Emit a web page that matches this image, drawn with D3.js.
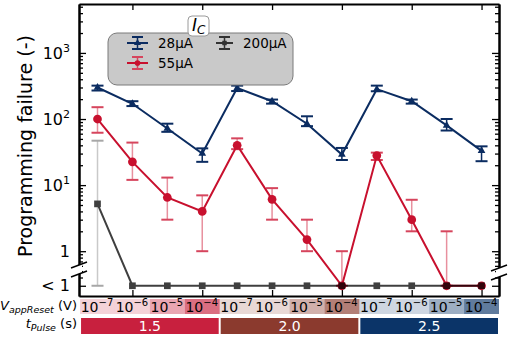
<!DOCTYPE html>
<html>
<head>
<meta charset="utf-8">
<script src="https://cdn.jsdelivr.net/npm/d3@7"></script>
<style>
  body { margin: 0; background: #fff; }
  svg { display: block; font-family: "DejaVu Sans", sans-serif; }
</style>
</head>
<body>
<svg id="chart" width="510" height="337"></svg>
<script>
// "< 1" is drawn at this value on the log axis
const LT = 0.3;

const steps = [1, 2, 3, 4, 5, 6, 7, 8, 9, 10, 11, 12];
const vExp = ["-7", "-6", "-5", "-4", "-7", "-6", "-5", "-4", "-7", "-6", "-5", "-4"];
const pulses = ["1.5", "2.0", "2.5"];

const fail28   = [300, 170, 72, 30, 295, 186, 85, 29, 283, 186, 80, 33];
const fail28Lo = [270, 157, 64, 22.5, 265, 171, 78, 24, 263, 171, 67, 23];
const fail28Hi = [320, 186, 85, 36, 320, 197, 110, 36.5, 320, 197, 100, 38.6];

const fail55   = [100, 22.5, 6.5, 4.0, 40, 6.1, 1.5, LT, 28, 3.0, LT, LT];
const fail55Lo = [62, 12, 3, 1, 35, 3, 1, LT, 24, 2.0, LT, LT];
const fail55Hi = [151, 44, 13, 7, 51, 9, 3, 1, 31, 6, 2, LT];

const fail200   = [5.2, LT, LT, LT, LT, LT, LT, LT, LT, LT, LT, LT];
const fail200Lo = [LT, LT, LT, LT, LT, LT, LT, LT, LT, LT, LT, LT];
const fail200Hi = [47, LT, LT, LT, LT, LT, LT, LT, LT, LT, LT, LT];

const yMajor = [LT, 1, 10, 100, 1000];
const yMinor = [0.4, 0.5, 0.6, 0.7, 0.8, 0.9];
[1, 10, 100, 1000].forEach(d => [2,3,4,5,6,7,8,9].forEach(k => { if (d*k < 5500) yMinor.push(d*k); }));

const navy = "#0b2c61", red = "#c8102e";
const groupColors = ["#c8203e", "#8b3a2e", "#0b3468"];
const shade = [0.2, 0.2, 0.4, 0.65];

const svg = d3.select("#chart");
const pLeft = 79, pRight = 499, pTop = 4, pBottom = 296;

const x = d3.scaleLinear().domain([0.47, 12.5]).range([pLeft, pRight]);
const y = d3.scaleLog().domain([0.21, 5500]).range([pBottom, pTop]);

// axes
function styleAxis(g) {
  g.select(".domain").attr("stroke-width", 2);
  g.selectAll(".tick line").attr("stroke-width", 1.3);
}
svg.append("g").attr("transform", `translate(${pLeft},0)`)
  .call(d3.axisLeft(y).tickValues(yMinor).tickSize(-4).tickSizeOuter(0).tickFormat(""))
  .call(styleAxis);
const yAx = svg.append("g").attr("transform", `translate(${pLeft},0)`)
  .call(d3.axisLeft(y).tickValues(yMajor).tickSize(-7).tickSizeOuter(0).tickPadding(9))
  .call(styleAxis);
yAx.attr("font-family", null).attr("font-size", 16);
yAx.selectAll(".tick text").each(function(d) {
  const t = d3.select(this).text(null).attr("fill", "#000");
  if (d === LT) { t.text("< 1"); return; }
  if (d === 1) { t.text("1"); return; }
  t.append("tspan").text("10");
  t.append("tspan").attr("dy", -7).attr("font-size", 11).text(Math.round(Math.log10(d)));
});
svg.append("g").attr("transform", `translate(${pRight},0)`)
  .call(d3.axisRight(y).tickValues(yMinor).tickSize(-4).tickSizeOuter(0).tickFormat(""))
  .call(styleAxis);
svg.append("g").attr("transform", `translate(${pRight},0)`)
  .call(d3.axisRight(y).tickValues(yMajor).tickSize(-7).tickSizeOuter(0).tickFormat(""))
  .call(styleAxis);
const evenSteps = steps.filter(d => d % 2 === 0);
svg.append("g").attr("transform", `translate(0,${pTop})`)
  .call(d3.axisTop(x).tickValues(evenSteps).tickSize(-6).tickSizeOuter(0).tickFormat(""))
  .call(styleAxis);
svg.append("g").attr("transform", `translate(0,${pBottom})`)
  .call(d3.axisBottom(x).tickValues(evenSteps).tickSize(-6).tickSizeOuter(0).tickFormat(""))
  .call(styleAxis);

// axis break
[[pLeft, 265, 274], [pRight, 268, 277]].forEach(([bx, y1, y2]) => {
  svg.append("rect").attr("x", bx - 3).attr("y", y1).attr("width", 6).attr("height", y2 - y1).attr("fill", "#fff");
  [y1, y2].forEach(yy => svg.append("line")
    .attr("x1", bx - 8).attr("y1", yy + 3).attr("x2", bx + 8).attr("y2", yy - 3)
    .attr("stroke", "#000").attr("stroke-width", 1.5));
});

svg.append("text")
  .attr("transform", `translate(32,146) rotate(-90)`)
  .attr("text-anchor", "middle").attr("font-size", 19)
  .text("Programming failure (-)");

// series
function drawSeries(vals, lo, hi, opt) {
  const g = svg.append("g").attr("opacity", opt.opacity || 1);
  steps.forEach((s, i) => {
    if (lo[i] === hi[i]) return;
    g.append("line").attr("x1", x(s)).attr("x2", x(s)).attr("y1", y(lo[i])).attr("y2", y(hi[i]))
      .attr("stroke", opt.errLine).attr("stroke-width", 1.5);
    [lo[i], hi[i]].forEach(v => g.append("line")
      .attr("x1", x(s) - 6).attr("x2", x(s) + 6).attr("y1", y(v)).attr("y2", y(v))
      .attr("stroke", opt.errCap).attr("stroke-width", 2));
  });
  g.append("path").datum(vals)
    .attr("d", d3.line().x((d, i) => x(steps[i])).y(d => y(d)))
    .attr("fill", "none").attr("stroke", opt.color).attr("stroke-width", 2);
  g.selectAll(".m").data(vals).join("path")
    .attr("transform", (d, i) => `translate(${x(steps[i])},${y(d)})`)
    .attr("d", d3.symbol().type(opt.symbol).size(opt.size))
    .attr("fill", opt.color);
}
drawSeries(fail28, fail28Lo, fail28Hi, { color: navy, errLine: navy, errCap: navy, symbol: d3.symbolTriangle, size: 26 });
drawSeries(fail55, fail55Lo, fail55Hi, { color: red, errLine: "#e8909e", errCap: "#d6455d", symbol: d3.symbolCircle, size: 60 });
drawSeries(fail200, fail200Lo, fail200Hi, { color: "#000", errLine: "#b8b8b8", errCap: "#8a8a8a", symbol: d3.symbolSquare, size: 45, opacity: 0.75 });

// legend
svg.append("rect").attr("x", 108).attr("y", 33).attr("width", 185).attr("height", 52).attr("rx", 9)
  .attr("fill", "#c9c9c9").attr("stroke", "#7a7a7a").attr("stroke-width", 1);
svg.append("rect").attr("x", 188).attr("y", 16).attr("width", 21).attr("height", 20).attr("rx", 4)
  .attr("fill", "#fff").attr("stroke", "#9a9a9a");
const tt = svg.append("text").attr("x", 192).attr("y", 31).attr("font-size", 17).attr("font-style", "italic");
tt.append("tspan").text("I");
tt.append("tspan").attr("dy", 3).attr("font-size", 12).text("C");

const legendItems = [
  { label: "28µA", color: navy, cap: navy, sym: d3.symbolTriangle, size: 22, lx: 127, ly: 43 },
  { label: "55µA", color: red, cap: "#d6455d", sym: d3.symbolCircle, size: 25, lx: 127, ly: 63 },
  { label: "200µA", color: "#333", cap: "#333", sym: d3.symbolSquare, size: 20, lx: 216, ly: 43 }
];
legendItems.forEach(it => {
  const g = svg.append("g");
  const w = it.label.length > 4 ? 17 : 21;
  g.append("line").attr("x1", it.lx).attr("x2", it.lx + w).attr("y1", it.ly).attr("y2", it.ly)
    .attr("stroke", it.color).attr("stroke-width", 2);
  const cx = it.lx + w / 2;
  g.append("line").attr("x1", cx).attr("x2", cx).attr("y1", it.ly - 6).attr("y2", it.ly + 6)
    .attr("stroke", it.cap).attr("stroke-width", 1.5);
  [it.ly - 6, it.ly + 6].forEach(v => g.append("line").attr("x1", cx - 5.5).attr("x2", cx + 5.5)
    .attr("y1", v).attr("y2", v).attr("stroke", it.cap).attr("stroke-width", 2));
  g.append("path").attr("transform", `translate(${cx},${it.ly})`)
    .attr("d", d3.symbol().type(it.sym).size(it.size)).attr("fill", it.color);
  g.append("text").attr("x", it.lx + w + 10).attr("y", it.ly + 5).attr("font-size", 13.5).text(it.label);
});

// V_appReset row
const vRow = svg.append("g");
steps.forEach((s, i) => {
  const gi = Math.floor(i / 4);
  vRow.append("rect").attr("x", x(s - 0.5)).attr("y", 299).attr("width", x(s + 0.5) - x(s - 0.5)).attr("height", 15)
    .attr("fill", groupColors[gi]).attr("fill-opacity", shade[i % 4]);
  const t = vRow.append("text").attr("x", x(s) - 0.5).attr("y", 312).attr("text-anchor", "middle").attr("font-size", 14);
  t.append("tspan").text("10");
  t.append("tspan").attr("dy", -6).attr("font-size", 10).text(vExp[i].replace("-", "\u2212"));
});

// t_Pulse row
pulses.forEach((p, gi) => {
  const x0 = x(gi * 4 + 0.5) + 1, x1 = x(gi * 4 + 4.5) - 1;
  svg.append("rect").attr("x", x0).attr("y", 318).attr("width", x1 - x0).attr("height", 16)
    .attr("fill", groupColors[gi]);
  svg.append("text").attr("x", (x0 + x1) / 2).attr("y", 331).attr("text-anchor", "middle")
    .attr("font-size", 14).attr("fill", "#fff").text(p);
});

const vl = svg.append("text").attr("x", 77).attr("y", 310).attr("text-anchor", "end").attr("font-size", 13);
vl.append("tspan").attr("font-style", "italic").text("V");
vl.append("tspan").attr("font-style", "italic").attr("font-size", 9.5).attr("dy", 2.5).text("appReset");
vl.append("tspan").attr("dy", -2.5).text(" (V)");
const tl = svg.append("text").attr("x", 77).attr("y", 328).attr("text-anchor", "end").attr("font-size", 13);
tl.append("tspan").attr("font-style", "italic").text("t");
tl.append("tspan").attr("font-style", "italic").attr("font-size", 9.5).attr("dy", 2.5).text("Pulse");
tl.append("tspan").attr("dy", -2.5).text(" (s)");
</script>
</body>
</html>
